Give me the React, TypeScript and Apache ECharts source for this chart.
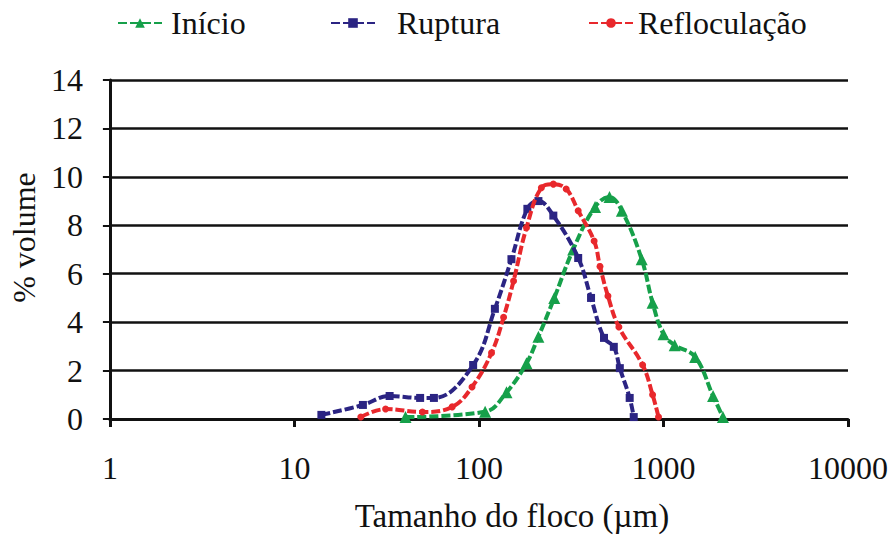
import React, { useEffect, useRef } from "react";
import * as echarts from "echarts";

const xTicks = [1, 10, 100, 1000, 10000];
const yTicks = [0, 2, 4, 6, 8, 10, 12, 14];

const inicioX = [40, 108, 141, 181, 210, 256, 324, 426, 510, 595, 762, 873, 1000, 1150, 1486, 1857, 2100];
const inicioY = [0.08, 0.3, 1.1, 2.3, 3.4, 5.0, 7.0, 8.76, 9.17, 8.6, 6.6, 4.8, 3.5, 3.05, 2.56, 0.95, 0.08];

const rupturaX = [14, 23.5, 32.8, 48, 57, 93, 122, 150, 183, 210, 253, 345, 405, 476, 538, 580, 656, 690];
const rupturaY = [0.17, 0.58, 0.95, 0.87, 0.87, 2.23, 4.55, 6.6, 8.68, 9.0, 8.4, 6.65, 5.0, 3.35, 2.98, 2.1, 0.87, 0.08];

const reflocX = [22.9, 31.2, 49.4, 71.6, 91.7, 117, 136, 154, 181, 218, 253, 297, 345, 421, 453, 500, 573, 771, 873, 940];
const reflocY = [0.08, 0.41, 0.29, 0.5, 1.32, 2.73, 4.2, 5.7, 7.9, 9.55, 9.7, 9.5, 8.6, 7.35, 6.3, 5.08, 3.8, 2.23, 1.0, 0.08];

const names = ["Início", "Ruptura", "Refloculação"];
const colors = ["#16a04a", "#2b2483", "#e8282c"];

const FONT = "'Liberation Serif', 'Times New Roman', serif";
const FS = 32;

export default function App() {
  const ref = useRef<HTMLDivElement>(null);
  useEffect(() => {
    if (!ref.current) return;
    const chart = echarts.init(ref.current, undefined, { renderer: "svg" });
    const zip = (xs: number[], ys: number[]) => xs.map((x, i) => [x, ys[i]]);
    const mk = (i: number, data: number[][], symbol: string, size: number) => ({
      name: names[i],
      type: "line",
      data,
      smooth: 0.4,
      symbol,
      symbolSize: size,
      showAllSymbol: true,
      itemStyle: { color: colors[i] },
      lineStyle: { color: colors[i], width: 4, type: [9, 3] },
      z: 3 + i,
    });
    const legendBase = {
      top: 2,
      itemWidth: 44,
      itemHeight: 12,
      textStyle: { fontFamily: FONT, fontSize: FS, color: "#111" },
    };
    chart.setOption({
      animation: false,
      backgroundColor: "#fff",
      legend: [
        {
          ...legendBase,
          data: [names[0]],
          left: 112,
          textStyle: { ...legendBase.textStyle, padding: [0, 0, 0, 4] },
        },
        {
          ...legendBase,
          data: [names[1]],
          left: 325,
          textStyle: { ...legendBase.textStyle, padding: [0, 0, 0, 17] },
        },
        { ...legendBase, data: [names[2]], left: 583 },
      ],
      grid: { left: 105, right: 43, top: 80, bottom: 118 },
      xAxis: {
        type: "log",
        logBase: 10,
        min: xTicks[0],
        max: xTicks[xTicks.length - 1],
        name: "Tamanho do floco (µm)",
        nameLocation: "middle",
        nameGap: 80,
        nameTextStyle: { fontFamily: FONT, fontSize: 33, color: "#111", padding: [0, 0, 0, 66] },
        axisLine: { lineStyle: { color: "#111", width: 3 } },
        axisTick: { show: true, length: 8, lineStyle: { color: "#111", width: 3 } },
        minorTick: { show: false },
        splitLine: { show: false },
        axisLabel: {
          fontFamily: FONT,
          fontSize: FS,
          color: "#111",
          margin: 33,
          formatter: (v: number) => String(Math.round(v)),
        },
      },
      yAxis: {
        type: "value",
        min: yTicks[0],
        max: yTicks[yTicks.length - 1],
        interval: 2,
        name: "% volume",
        nameLocation: "middle",
        nameGap: 65,
        nameTextStyle: { fontFamily: FONT, fontSize: FS, color: "#111", padding: [0, 0, 0, 24] },
        axisLine: { show: true, lineStyle: { color: "#111", width: 3 } },
        axisTick: { show: true, length: 7, lineStyle: { color: "#111", width: 2 } },
        splitLine: { show: true, lineStyle: { color: "#111", width: 2.5 } },
        axisLabel: { fontFamily: FONT, fontSize: FS, color: "#111", margin: 27 },
      },
      series: [
        mk(0, zip(inicioX, inicioY), "triangle", 12),
        mk(1, zip(rupturaX, rupturaY), "rect", 8),
        mk(2, zip(reflocX, reflocY), "circle", 7),
      ],
    });
    return () => chart.dispose();
  }, []);
  return <div ref={ref} style={{ width: 891, height: 537, position: "absolute", left: 0, top: 0 }} />;
}
